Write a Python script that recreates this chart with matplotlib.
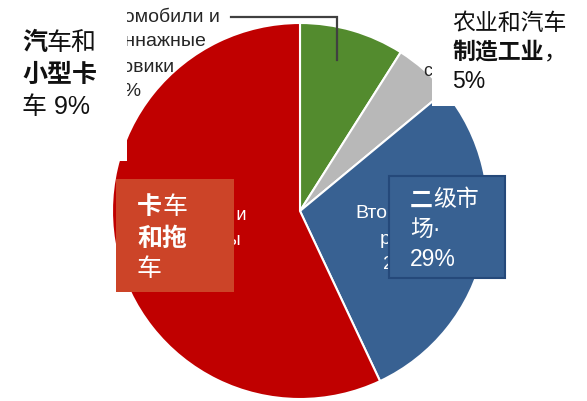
import matplotlib.pyplot as plt
from matplotlib.patches import Rectangle
from matplotlib import transforms

W, H = 587, 402

# slice shares (clockwise from 12 o'clock)
shares = [9, 5, 29, 57]
slice_colors = ['#538B2E', '#B8B8B8', '#386192', '#C00000']

# original (russian) labels, partly hidden under the boxes
ru_cars = ['Автомобили и', 'малотоннажные', 'грузовики', '9%']
ru_trucks = ['Грузовики и', 'прицепы', '57%']
ru_second = ['Вторичный', 'рынок,', '29%']
ru_agro = 'сельхозтехника'

# chinese labels: each line is a list of (text, bold) runs
zh_cars = [[('汽', True), ('车和', False)],
           [('小型卡', True)],
           [('车 9%', False)]]
zh_agro = [[('农业和汽车', False)],
           [('制造工业', True), ('，', False)],
           [('5%', False)]]
zh_trucks = [[('卡', True), ('车', False)],
             [('和拖', True)],
             [('车', False)]]
zh_second = [[('二', True), ('级市', False)],
             [('场·', False)],
             [('29%', False)]]

FAM = ['Liberation Sans', 'Noto Sans CJK SC', 'DejaVu Sans']

fig = plt.figure(figsize=(W / 100, H / 100), dpi=100)
ax = fig.add_axes([0, 0, 1, 1])

ax.pie(shares, colors=slice_colors, center=(300, 212), radius=188,
       startangle=-90, counterclock=True,
       wedgeprops=dict(edgecolor='white', linewidth=1.5))
ax.set_xlim(0, W)
ax.set_ylim(H, 0)
ax.set_aspect('auto')
ax.axis('off')

# russian labels
for s, xe, y in zip(ru_cars, [220, 207, 175, 141], [17, 42, 67, 91]):
    ax.text(xe, y, s, ha='right', va='center', fontsize=14, color='#262626', family=FAM)
for s, xe, y in zip(ru_trucks, [247, 241, 225], [216, 241, 266]):
    ax.text(xe, y, s, ha='right', va='center', fontsize=13, color='white', family=FAM)
for s, xs, y in zip(ru_second, [355, 380, 383], [213, 240, 265]):
    ax.text(xs, y, s, ha='left', va='center', fontsize=14, color='white', family=FAM)
ax.text(423, 71, ru_agro, ha='left', va='center', fontsize=13, color='#262626', family=FAM)

# leader line
ax.plot([231, 337, 337], [17.5, 17.5, 61], color='#404040', lw=1.6, solid_joinstyle='miter')

# boxes put over the old labels
ax.add_patch(Rectangle((0, 0), 127, 162, facecolor='white', edgecolor='none', zorder=5))
ax.add_patch(Rectangle((432, 0), W - 432, 107, facecolor='white', edgecolor='none', zorder=5))
ax.add_patch(Rectangle((116, 180), 118, 113, facecolor='#CC4428', edgecolor='none', zorder=5))
ax.add_patch(Rectangle((389, 177), 116, 102, facecolor='#386192', edgecolor='#25497A',
                       lw=1.5, zorder=5))

renderer = fig.canvas.get_renderer()


def draw_lines(x, ys, lines, size, color):
    for y, runs in zip(ys, lines):
        dx = 0.0
        for s, bold in runs:
            tr = transforms.offset_copy(ax.transData, fig=fig, x=dx, y=0, units='dots')
            t = ax.text(x, y, s, transform=tr, ha='left', va='center', fontsize=size,
                        color=color, family=FAM, weight='bold' if bold else 'normal', zorder=6)
            dx += t.get_window_extent(renderer).width


draw_lines(22, [43, 75, 107], zh_cars, 18, '#111111')
draw_lines(452, [24, 52, 81], zh_agro, 16.5, '#111111')
draw_lines(137, [207, 239, 269], zh_trucks, 18, 'white')
draw_lines(410, [200, 229, 260], zh_second, 16.5, 'white')

fig.savefig('out.png', dpi=100)
